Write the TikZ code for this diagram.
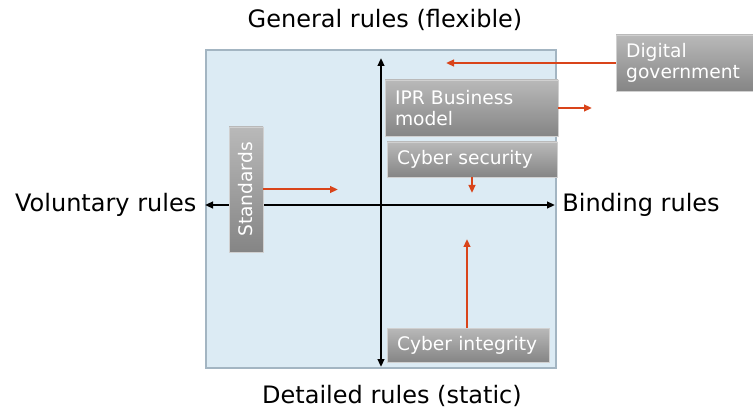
\documentclass[tikz,border=0pt]{standalone}
\usepackage{fontspec}
\setmainfont{DejaVu Sans}
\usetikzlibrary{positioning,arrows.meta}
\definecolor{planefill}{HTML}{DCEBF4}
\definecolor{planeline}{HTML}{A3B5C2}
\definecolor{boxtop}{HTML}{B9B9B9}
\definecolor{boxbot}{HTML}{858585}
\definecolor{boxline}{HTML}{D0D0D0}
\definecolor{pull}{HTML}{D9441A}
\tikzset{
    %Define standard arrow tip
    >={Triangle[length=6pt,width=5pt]},
    %Define style for gray boxes
    gbox/.style={
           rectangle,
           top color=boxtop, bottom color=boxbot,
           draw=boxline, thin,
           text=white,
           font=\fontsize{14}{16}\selectfont,
           inner xsep=7.5pt, inner ysep=2pt,
           align=left},
    % Define axis style
    axis/.style={
           <->,
           line width=1.8pt},
    % Define red arrow style
    push/.style={
           ->,
           draw=pull, fill=pull,
           line width=1.5pt},
    lbl/.style={
           font=\fontsize{18}{21}\selectfont}
}
\begin{document}
\begin{tikzpicture}[x=0.75pt, y=-0.75pt]
 \useasboundingbox (0,0) rectangle (753,413);
 %plane
    \draw[fill=planefill, draw=planeline, line width=1.2pt] (206,50) rectangle (556,368);
 %axes
    \coordinate (vtop) at (381,58);
    \coordinate (vbot) at (381,367);
    \coordinate (hleft) at (205,205);
    \coordinate (hright) at (555,205);
    \draw[axis] (vtop) -- (vbot);
    \draw[axis] (hleft) -- (hright);
 %axis labels
    \node[lbl] (gen) at (385,20) {General rules (flexible)};
    \node[lbl] (det) at (392,396) {Detailed rules (static)};
    \node[lbl, left=3pt of hleft] (vol) {Voluntary rules};
    \node[lbl, right=2pt of hright] (bind) {Binding rules};
 %boxes
    \node[gbox, text width=89pt, minimum height=42pt] (dg) at (685.5,63) {Digital\\government};
    \node[gbox, text width=114.75pt, minimum height=42pt] (ipr) at (471.5,108) {IPR Business\\model};
    \node[gbox, text width=112.5pt, minimum height=26.25pt] (cs) at (472,159.5) {Cyber security};
    \node[gbox, text width=106.5pt, minimum height=25.5pt] (ci) at (468,345) {Cyber integrity};
    \node[gbox, rotate=90, align=center, inner xsep=2pt, minimum width=93.75pt, minimum height=25.5pt] (std) at (246,189.5) {Standards};
 %ends of red arrows
    \coordinate (dgend) at (446,63);
    \coordinate (iprend) at (592,108);
    \coordinate (csend) at (472,193);
    \coordinate (stdend) at (338,189.5);
    \coordinate (ciend) at (467,239);
 %red arrows
    \draw[push] (dg.west) -- (dgend);
    \draw[push] (ipr.east) -- (iprend);
    \draw[push] (cs.south) -- (csend);
    \draw[push] (std.south) -- (stdend);
    \draw[push] (ci.north -| ciend) -- (ciend);
\end{tikzpicture}
\end{document}
